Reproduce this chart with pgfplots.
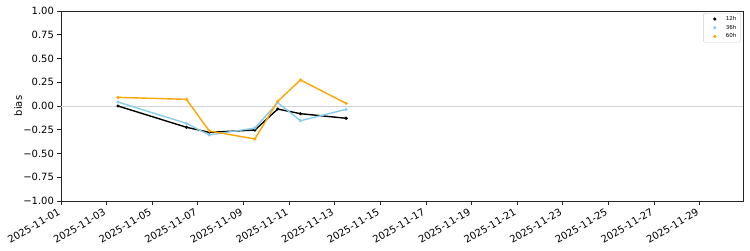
\documentclass[border=0pt]{standalone}
\usepackage{fontspec}
\setmainfont{DejaVu Sans}
\usepackage{pgfplots}
\pgfplotsset{compat=1.18}
\usepackage{pgfplotstable}
\definecolor{skyb}{RGB}{135,206,235}
\definecolor{orng}{RGB}{255,165,0}
\definecolor{zl}{RGB}{211,211,211}
\definecolor{lg}{RGB}{204,204,204}
\pgfplotstableread{
x y
2.5 0.000
5.5 -0.224
6.5 -0.277
8.5 -0.253
9.5 -0.032
10.5 -0.081
12.5 -0.129
}\tA
\pgfplotstableread{
x y
2.5 0.042
5.5 -0.183
6.5 -0.305
8.5 -0.232
9.5 0.035
10.5 -0.155
12.5 -0.035
}\tB
\pgfplotstableread{
x y
2.5 0.091
5.5 0.070
6.5 -0.263
8.5 -0.347
9.5 0.049
10.5 0.274
12.5 0.028
}\tC
\begin{document}
\begin{tikzpicture}
\useasboundingbox (-61pt,-49pt) rectangle (689pt,201pt);
\begin{axis}[
  at={(0pt,0pt)}, anchor=south west,
  scale only axis, width=682pt, height=190pt,
  xmin=0, xmax=29.9, ymin=-1, ymax=1,
  xtick={0,2,...,28},
  xticklabels={2025-11-01,2025-11-03,2025-11-05,2025-11-07,2025-11-09,2025-11-11,2025-11-13,2025-11-15,2025-11-17,2025-11-19,2025-11-21,2025-11-23,2025-11-25,2025-11-27,2025-11-29},
  ytick={-1,-0.75,-0.5,-0.25,0,0.25,0.5,0.75,1},
  yticklabels={−1.00,−0.75,−0.50,−0.25,0.00,0.25,0.50,0.75,1.00},
  tick align=outside, major tick length=3.5pt,
  xtick pos=left, ytick pos=left,
  axis line style={black!85, line width=0.8pt},
  tick style={black!85, line width=0.8pt},
  ticklabel style={font=\fontsize{10}{12}\selectfont},
  xticklabel style={rotate=30, anchor=north east, inner sep=1pt, xshift=-4pt},
  ylabel={bias},
  ylabel style={font=\fontsize{10}{12}\selectfont, at={(axis description cs:-0.063,0.5)}, anchor=center},
  legend style={at={(rel axis cs:1,1)}, xshift=-2pt, yshift=-2pt, anchor=north east,
    font=\fontsize{5.5}{6.5}\selectfont, draw=lg,
    rounded corners=2pt, row sep=0pt, inner sep=1.5pt, nodes={inner ysep=1.5pt, inner xsep=3pt}},
  legend cell align=left,
]
\addplot[zl, line width=0.8pt, forget plot] coordinates {(0,0) (29.9,0)};
\addplot[black, line width=1.4pt, mark=*, mark size=1.4pt, mark options={line width=0.4pt}, forget plot] table[x=x,y=y] {\tA};
\addplot[skyb, line width=1.4pt, mark=*, mark size=1.4pt, mark options={line width=0.4pt}, forget plot] table[x=x,y=y] {\tB};
\addplot[orng, line width=1.4pt, mark=*, mark size=1.4pt, mark options={line width=0.4pt}, forget plot] table[x=x,y=y] {\tC};
\addlegendimage{legend image code/.code={\path[draw=none,fill=none] (0pt,0pt) -- (18pt,0pt); \fill[black] (10pt,0pt) circle (1.4pt);}}
\addlegendentry{12h}
\addlegendimage{legend image code/.code={\path[draw=none,fill=none] (0pt,0pt) -- (18pt,0pt); \fill[skyb] (10pt,0pt) circle (1.4pt);}}
\addlegendentry{36h}
\addlegendimage{legend image code/.code={\path[draw=none,fill=none] (0pt,0pt) -- (18pt,0pt); \fill[orng] (10pt,0pt) circle (1.4pt);}}
\addlegendentry{60h}
\end{axis}
\end{tikzpicture}
\end{document}
